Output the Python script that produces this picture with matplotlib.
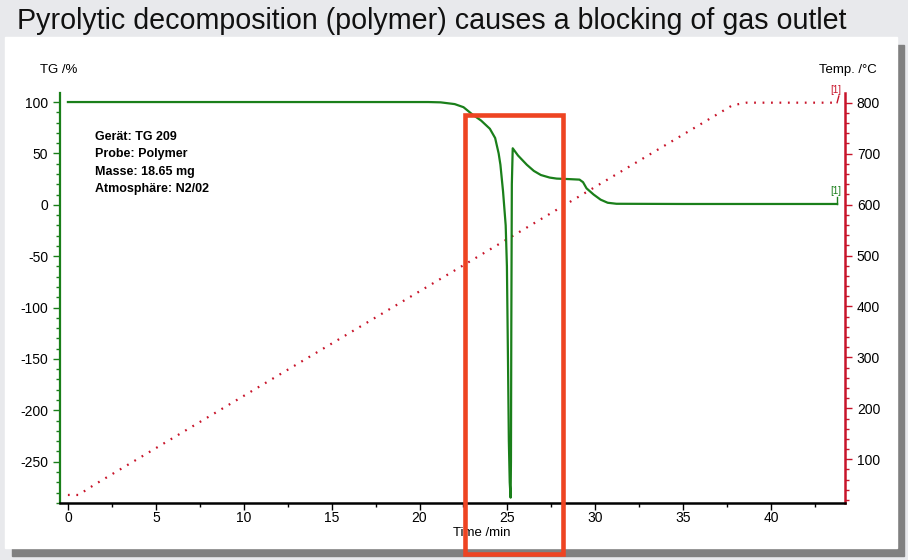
import matplotlib.pyplot as plt
from matplotlib.patches import Rectangle
from matplotlib.ticker import MultipleLocator

plt.rcParams['font.family'] = ['Liberation Sans', 'DejaVu Sans']
plt.rcParams['axes.unicode_minus'] = False

# TG curve (time in min, mass in %)
tg_time = [0, 20.5, 21.2, 22.0, 22.5, 23.0, 23.5, 24.0, 24.3, 24.5, 24.6, 24.75,
           24.9, 24.97, 25.03, 25.08, 25.13, 25.18, 25.2, 25.22, 25.25, 25.3,
           25.6, 26.1, 26.5, 26.9, 27.4, 27.8, 28.5, 29.1, 29.3, 29.5, 29.9,
           30.3, 30.7, 31.2, 35.0, 43.75]
tg_mass = [100, 100, 99.7, 98, 95, 88, 82, 74, 65, 50, 39, 13,
           -20, -60, -150, -230, -270, -285, -250, -120, 20, 55,
           48, 39, 33, 29, 26.5, 25.5, 25, 24.5, 22, 16, 10,
           5, 2, 1, 0.8, 0.8]

# temperature program
temp_time = [0, 0.6, 1.5, 37.8, 38.6, 43.75]
temp_val = [30, 30, 50, 795, 800, 800]

title = 'Pyrolytic decomposition (polymer) causes a blocking of gas outlet'
info = ['Gerät: TG 209', 'Probe: Polymer', 'Masse: 18.65 mg', 'Atmosphäre: N2/02']

W, H = 908, 560
green = '#1a7f1a'
red = '#c8142a'

fig = plt.figure(figsize=(W / 100, H / 100), dpi=100)
fig.patch.set_facecolor('#e8e9ec')


def box(x0, y0, x1, y1):
    # pixel box (top-left origin) -> figure fraction
    return (x0 / W, 1 - y1 / H), (x1 - x0) / W, (y1 - y0) / H


xy, w, h = box(12, 45, 904, 556)
fig.patches.append(Rectangle(xy, w, h, transform=fig.transFigure, color='#808080', zorder=-3))
xy, w, h = box(5, 37, 897, 548)
fig.patches.append(Rectangle(xy, w, h, transform=fig.transFigure, color='white', zorder=-2))

fig.text(17 / W, 1 - 21 / H, title, fontsize=20.6, va='center', ha='left', color='#111111')

ax = fig.add_axes([60 / W, 1 - 503 / H, 785 / W, 410 / H])
ax.set_facecolor('none')
ax2 = ax.twinx()

ax2.plot(temp_time, temp_val, color=red, lw=1.6, linestyle=(0, (0.8, 3)))
ax.plot(tg_time, tg_mass, color=green, lw=1.6, zorder=5)
ax.set_zorder(ax2.get_zorder() + 1)

ax.set_xlim(-0.45, 44.2)
ax.set_ylim(-290.2, 108.8)
ax2.set_ylim(14.2, 819)

ax.xaxis.set_major_locator(MultipleLocator(5))
ax.xaxis.set_minor_locator(MultipleLocator(2.5))
ax.yaxis.set_major_locator(MultipleLocator(50))
ax.yaxis.set_minor_locator(MultipleLocator(10))
ax2.yaxis.set_major_locator(MultipleLocator(100))
ax2.yaxis.set_minor_locator(MultipleLocator(20))
ax2.set_yticks([100, 200, 300, 400, 500, 600, 700, 800])

for s in ['top', 'right']:
    ax.spines[s].set_visible(False)
for s in ['top', 'left', 'bottom']:
    ax2.spines[s].set_visible(False)
ax.spines['left'].set_color(green)
ax.spines['left'].set_linewidth(1.6)
ax.spines['bottom'].set_color('black')
ax.spines['bottom'].set_linewidth(1.8)
ax2.spines['right'].set_color(red)
ax2.spines['right'].set_linewidth(1.8)

ax.tick_params(axis='x', which='major', length=5, width=1, labelsize=10, pad=1)
ax.tick_params(axis='x', which='minor', length=3, width=1)
ax.tick_params(axis='y', which='major', length=5, width=1, color=green, labelsize=10)
ax.tick_params(axis='y', which='minor', length=3, width=1, color=green)
ax2.tick_params(axis='y', which='major', length=5, width=1, color=red, labelsize=10)
ax2.tick_params(axis='y', which='minor', length=3, width=1, color=red)

fig.text(40 / W, 1 - 70 / H, 'TG /%', fontsize=9.5, va='center', ha='left')
fig.text(877 / W, 1 - 70 / H, 'Temp. /°C', fontsize=9.5, va='center', ha='right')
fig.text(453 / W, 1 - 533 / H, 'Time /min', fontsize=9.5, va='center', ha='left')

for i, line in enumerate(info):
    fig.text(95 / W, 1 - (137 + i * 17.3) / H, line, fontsize=9, fontweight='bold',
             va='center', ha='left')

# curve end markers
ax2.plot([43.75, 43.85], [800, 813], color=red, lw=1, clip_on=False)
ax2.text(43.7, 816, '[1]', color=red, fontsize=7, ha='center', va='bottom', clip_on=False)
ax.plot([43.75, 43.75], [0.8, 8], color=green, lw=1, clip_on=False)
ax.text(43.65, 9, '[1]', color=green, fontsize=7, ha='center', va='bottom')

# highlight box
xy, w, h = box(465, 114.5, 562.7, 554)
fig.patches.append(Rectangle(xy, w, h, transform=fig.transFigure, fill=False,
                             edgecolor='#ee4422', lw=3.3, zorder=10))

fig.savefig('out.png', dpi=100)
